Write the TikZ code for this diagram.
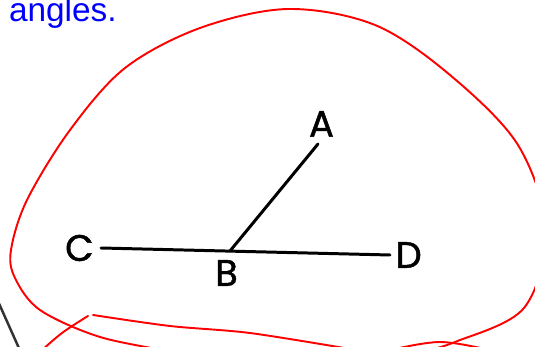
\documentclass[tikz,border=0pt]{standalone}
\usepackage{fontspec}
\setmainfont{Liberation Sans}
\newfontfamily\geofont{Poppins}[FakeBold=1.2]
\usepackage{tikz}
\usetikzlibrary{positioning}

\begin{document}
\begin{tikzpicture}[x=0.02cm, y=-0.02cm,
		seg/.style={line width=1.7pt, line cap=round},
		pen/.style={red, line width=1.1pt, line cap=round},
		lbl/.style={font=\geofont\fontsize{21}{22}\selectfont, inner sep=0pt}]
		% Frame
		\useasboundingbox (0,0) rectangle (535,347);
		\clip (0,0) rectangle (535,347);
		% Heading
		\node[anchor=base east, text=blue, font=\fontsize{19}{20}\selectfont, inner sep=0pt] (title) at (117,22) {angles.};
		% Points
		\coordinate (B) at (230,251);
		\coordinate (C) at (101,248);
		\coordinate (D) at (390,255);
		\coordinate (A) at (318,144);
		% Rays
		\draw[seg] (C) -- (D);
		\draw[seg] (B) -- (A);
		% Labels
		\node[lbl, left=4pt of C] (Clbl) {C};
		\node[lbl, right=3pt of D] (Dlbl) {D};
		\node[lbl, above=4pt of A, xshift=2pt] (Albl) {A};
		\node[lbl, below=5pt of B, xshift=-2pt] (Blbl) {B};
		% Red loop
		\draw[pen] plot[smooth, tension=0.55] coordinates {(175,352) (100,337) (40,310) (15,278) (11,250) (27,200) (70,130) (125,68) (200,28) (288,9) (375,25) (450,75) (518,145) (546,230) (524,308) (455,342) (420,352)};
		\draw[pen] plot[smooth, tension=0.6] coordinates {(40,352) (62,333) (88,316)};
		\draw[pen] plot[smooth, tension=0.5] coordinates {(93,315) (170,326) (250,333) (350,349)};
		\draw[pen] plot[smooth, tension=0.6] coordinates {(395,349) (440,342) (485,349)};
		% Corner line
		\draw[line width=1.4pt, black!80] (-3,299) -- (22,355);
	\end{tikzpicture}
\end{document}
